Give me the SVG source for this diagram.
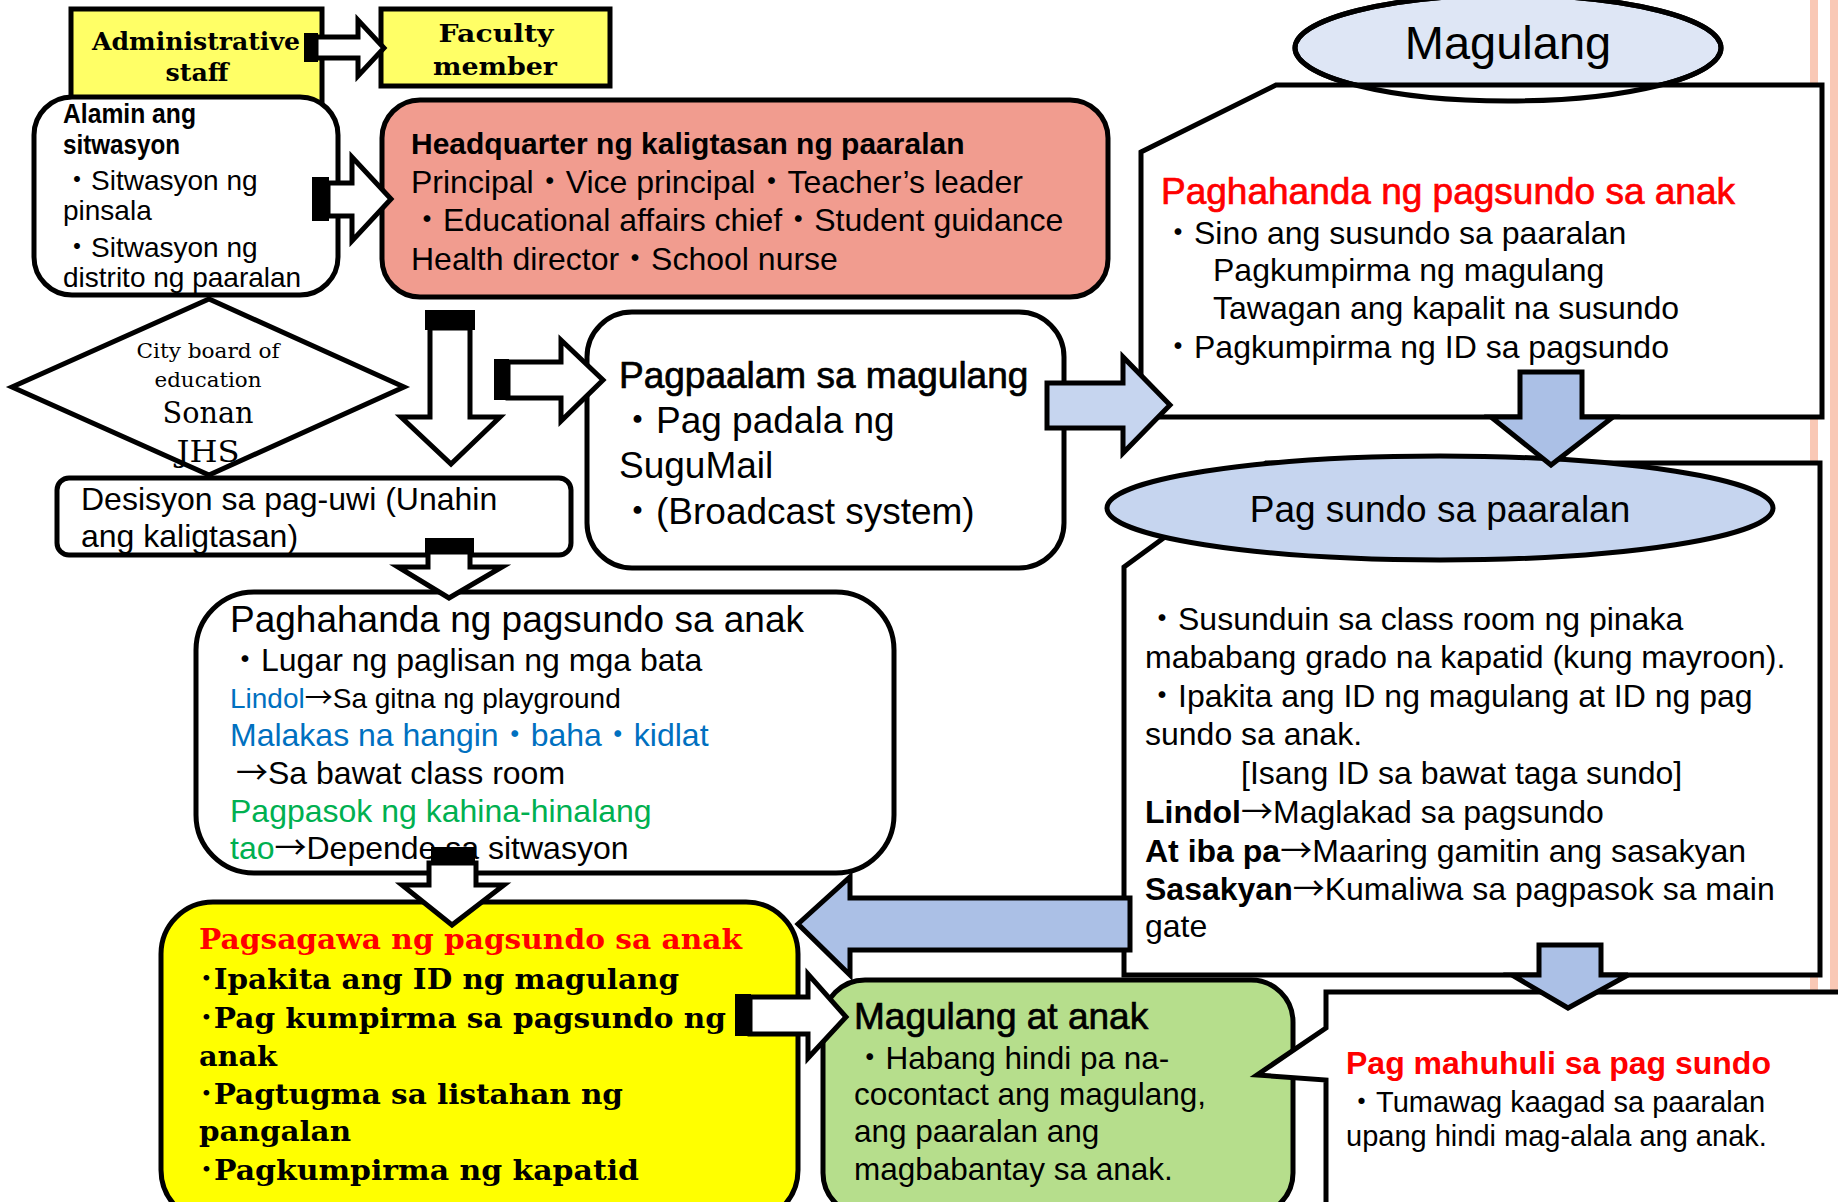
<svg xmlns="http://www.w3.org/2000/svg" width="1838" height="1202" viewBox="0 0 1838 1202">
<style>
.s{font-family:"Liberation Sans",Arial,"Noto Sans CJK JP",sans-serif;fill:#000}
.sf{font-family:"DejaVu Serif","Liberation Serif","Noto Sans CJK JP",serif;fill:#000}
.ar{font-family:"Noto Sans CJK JP",sans-serif;font-weight:normal}
.b{font-weight:bold}
.hv{stroke:#000;stroke-width:0.7}
.box{stroke:#000;stroke-width:5;stroke-linejoin:miter}
.wa{fill:#fff;stroke:#000;stroke-width:5;stroke-linejoin:miter}
.ba1{fill:#C6D5EF;stroke:#000;stroke-width:5;stroke-linejoin:miter}
.ba2{fill:#ABC0E6;stroke:#000;stroke-width:5;stroke-linejoin:miter}
.red{fill:#FF0000}.blue{fill:#0070C0}.green{fill:#00B050}
.t28{font-size:28px}.t32{font-size:32px}.t37{font-size:37px}
</style>
<rect x="0" y="0" width="1838" height="1202" fill="#fff"/>
<rect x="1810" y="0" width="8" height="990" fill="#F9C8B5"/>
<rect x="1830" y="0" width="8" height="990" fill="#F9C8B5"/>

<g id="admin-staff">
<rect class="box" x="71" y="9" width="251" height="105" fill="#FFFF66"/>
<text class="sf b" x="196" y="50" font-size="25" text-anchor="middle" textLength="208" lengthAdjust="spacingAndGlyphs">Administrative</text>
<text class="sf b" x="197" y="81" font-size="25" text-anchor="middle" textLength="63" lengthAdjust="spacingAndGlyphs">staff</text>
</g>
<g id="faculty-member">
<rect class="box" x="381" y="9" width="229" height="77" fill="#FFFF66"/>
<text class="sf b" x="496" y="42" font-size="25" text-anchor="middle" textLength="115" lengthAdjust="spacingAndGlyphs">Faculty</text>
<text class="sf b" x="495" y="75" font-size="25" text-anchor="middle" textLength="124" lengthAdjust="spacingAndGlyphs">member</text>
</g>
<g id="alamin">
<rect class="box" x="34" y="97" width="304" height="198" rx="38" fill="#fff"/>
<text class="s b" x="63" y="123" font-size="27" textLength="133" lengthAdjust="spacingAndGlyphs">Alamin ang</text>
<text class="s b" x="63" y="154" font-size="27" textLength="117" lengthAdjust="spacingAndGlyphs">sitwasyon</text>
<text class="s t28" x="63" y="190">・Sitwasyon ng</text>
<text class="s t28" x="63" y="220">pinsala</text>
<text class="s t28" x="63" y="257">・Sitwasyon ng</text>
<text class="s t28" x="63" y="287">distrito ng paaralan</text>
</g>
<g id="headquarter">
<rect class="box" x="382" y="100" width="726" height="197" rx="38" fill="#F19C8F"/>
<text class="s b" x="411" y="154" font-size="30">Headquarter ng kaligtasan ng paaralan</text>
<text class="s t32" x="411" y="193">Principal・Vice principal・Teacher’s leader</text>
<text class="s t32" x="411" y="231">・Educational affairs chief・Student guidance</text>
<text class="s t32" x="411" y="270">Health director・School nurse</text>
</g>
<g id="city-board">
<polygon class="box" points="12,387 209,299 404,387 209,475" fill="#fff"/>
<text class="sf" x="208" y="358" font-size="21" text-anchor="middle" textLength="143" lengthAdjust="spacingAndGlyphs">City board of</text>
<text class="sf" x="208" y="387" font-size="21" text-anchor="middle" textLength="107" lengthAdjust="spacingAndGlyphs">education</text>
<text class="sf" x="208" y="423" font-size="29" text-anchor="middle" textLength="91" lengthAdjust="spacingAndGlyphs">Sonan</text>
<text class="sf" x="208" y="462" font-size="29" text-anchor="middle" textLength="63" lengthAdjust="spacingAndGlyphs">JHS</text>
</g>
<g id="desisyon">
<rect class="box" x="57" y="478" width="514" height="77" rx="12" fill="#fff"/>
<text class="s t32" x="81" y="510">Desisyon sa pag-uwi (Unahin</text>
<text class="s t32" x="81" y="547">ang kaligtasan)</text>
</g>
<g id="pagpaalam">
<rect class="box" x="587" y="312" width="477" height="256" rx="45" fill="#fff"/>
<text class="s t37 hv" x="619" y="388">Pagpaalam sa magulang</text>
<text class="s t37" x="619" y="433">・Pag padala ng</text>
<text class="s t37" x="619" y="478">SuguMail</text>
<text class="s t37" x="619" y="524">・(Broadcast system)</text>
</g>
<g id="magulang">
<ellipse class="box" cx="1508" cy="48" rx="213" ry="53" fill="#DEE6F5"/>
<text class="s" x="1508" y="59" font-size="47" text-anchor="middle">Magulang</text>
</g>
<g id="paghahanda-magulang">
<polygon class="box" points="1141,152 1276,85 1822,85 1822,417 1141,417" fill="#fff"/>
<ellipse cx="1508" cy="48" rx="213" ry="53" fill="none" stroke="#000" stroke-width="5"/>
<text class="s t37 red" x="1161" y="204" stroke="#FF0000" stroke-width="0.7">Paghahanda ng pagsundo sa anak</text>
<text class="s t32" x="1162" y="244">・Sino ang susundo sa paaralan</text>
<text class="s t32" x="1213" y="281">Pagkumpirma ng magulang</text>
<text class="s t32" x="1213" y="319">Tawagan ang kapalit na susundo</text>
<text class="s t32" x="1162" y="358">・Pagkumpirma ng ID sa pagsundo</text>
</g>
<g id="pag-sundo-box">
<polygon class="box" points="1124,567 1266,463 1820,463 1820,975 1124,975" fill="#fff"/>
<text class="s t32" x="1146" y="630">・Susunduin sa class room ng pinaka</text>
<text class="s t32" x="1145" y="668">mababang grado na kapatid (kung mayroon).</text>
<text class="s t32" x="1146" y="707">・Ipakita ang ID ng magulang at ID ng pag</text>
<text class="s t32" x="1145" y="745">sundo sa anak.</text>
<text class="s t32" x="1241" y="784">[Isang ID sa bawat taga sundo]</text>
<text class="s t32" x="1145" y="823"><tspan class="b">Lindol</tspan><tspan class="ar">→</tspan>Maglakad sa pagsundo</text>
<text class="s t32" x="1145" y="862"><tspan class="b">At iba pa</tspan><tspan class="ar">→</tspan>Maaring gamitin ang sasakyan</text>
<text class="s t32" x="1145" y="900"><tspan class="b">Sasakyan</tspan><tspan class="ar">→</tspan>Kumaliwa sa pagpasok sa main</text>
<text class="s t32" x="1145" y="937">gate</text>
</g>
<g id="pag-sundo-header">
<ellipse class="box" cx="1440" cy="508" rx="333" ry="52" fill="#C6D5EF"/>
<text class="s t37" x="1440" y="522" text-anchor="middle">Pag sundo sa paaralan</text>
</g>
<g id="paghahanda-left">
<rect class="box" x="196" y="592" width="698" height="281" rx="58" fill="#fff"/>
<text class="s t37" x="230" y="632">Paghahanda ng pagsundo sa anak</text>
<text class="s t32" x="229" y="671">・Lugar ng paglisan ng mga bata</text>
<text class="s t28" x="230" y="708"><tspan class="blue">Lindol</tspan><tspan class="ar">→</tspan>Sa gitna ng playground</text>
<text class="s t32 blue" x="230" y="746">Malakas na hangin・baha・kidlat</text>
<text class="s t32" x="236" y="784"><tspan class="ar">→</tspan>Sa bawat class room</text>
<text class="s t32 green" x="230" y="822">Pagpasok ng kahina-hinalang</text>
<text class="s t32" x="230" y="859"><tspan class="green">tao</tspan><tspan class="ar">→</tspan>Depende sa sitwasyon</text>
</g>
<g id="pagsagawa">
<rect class="box" x="161" y="902" width="637" height="320" rx="52" fill="#FFFF00"/>
<text class="sf b red" x="199" y="949" font-size="28" textLength="543" lengthAdjust="spacingAndGlyphs">Pagsagawa ng pagsundo sa anak</text>
<text class="sf b" x="199" y="989" font-size="28" textLength="480" lengthAdjust="spacingAndGlyphs">･Ipakita ang ID ng magulang</text>
<text class="sf b" x="199" y="1028" font-size="28" textLength="527" lengthAdjust="spacingAndGlyphs">･Pag kumpirma sa pagsundo ng</text>
<text class="sf b" x="199" y="1066" font-size="28" textLength="78" lengthAdjust="spacingAndGlyphs">anak</text>
<text class="sf b" x="199" y="1104" font-size="28" textLength="424" lengthAdjust="spacingAndGlyphs">･Pagtugma sa listahan ng</text>
<text class="sf b" x="199" y="1141" font-size="28" textLength="152" lengthAdjust="spacingAndGlyphs">pangalan</text>
<text class="sf b" x="199" y="1180" font-size="28" textLength="440" lengthAdjust="spacingAndGlyphs">･Pagkumpirma ng kapatid</text>
</g>
<g id="magulang-at-anak">
<rect class="box" x="823" y="980" width="470" height="235" rx="42" fill="#B6DE8C"/>
<text class="s t37 hv" x="854" y="1029">Magulang at anak</text>
<text class="s" x="854" y="1069" font-size="31.5">・Habang hindi pa na-</text>
<text class="s" x="854" y="1105" font-size="31.5">cocontact ang magulang,</text>
<text class="s" x="854" y="1142" font-size="31.5">ang paaralan ang</text>
<text class="s" x="854" y="1180" font-size="31.5">magbabantay sa anak.</text>
</g>
<g id="pag-mahuhuli">
<polygon class="box" points="1326,992 1845,992 1845,1210 1326,1210 1326,1080 1257,1075 1326,1028" fill="#fff"/>
<text class="s b red" x="1346" y="1074" font-size="32">Pag mahuhuli sa pag sundo</text>
<text class="s" x="1347" y="1112" font-size="29">・Tumawag kaagad sa paaralan</text>
<text class="s" x="1346" y="1146" font-size="29">upang hindi mag-alala ang anak.</text>
</g>

<g id="connectors">
<rect x="304" y="33" width="14" height="29" fill="#000"/>
<polygon class="wa" points="316,37 358,37 358,20 384,48 358,76 358,58 316,58"/>
<rect x="312" y="177" width="17" height="44" fill="#000"/>
<polygon class="wa" points="328,183 352,183 352,157 391,199 352,241 352,216 328,216"/>
<rect x="425" y="310" width="50" height="20" fill="#000"/>
<polygon class="wa" points="430,328 470,328 470,417 500,417 451,464 401,417 430,417"/>
<rect x="494" y="359" width="15" height="41" fill="#000"/>
<polygon class="wa" points="508,362 561,362 561,340 603,380 561,421 561,398 508,398"/>
<rect x="425" y="538" width="49" height="15" fill="#000"/>
<polygon class="wa" points="428,552 470,552 470,567 502,567 449,598 398,567 428,567"/>
<rect x="431" y="847" width="44" height="17" fill="#000"/>
<polygon class="wa" points="429,863 476,863 476,885 504,885 452,925 402,885 429,885"/>
<rect x="735" y="994" width="16" height="42" fill="#000"/>
<polygon class="wa" points="750,997 808,997 808,974 846,1017 808,1058 808,1034 750,1034"/>
<polygon class="ba1" points="1047,383 1123,383 1123,357 1170,405 1123,453 1123,428 1047,428"/>
<polygon class="ba2" points="1520,372 1582,372 1582,417 1613,417 1551,465 1491,417 1520,417"/>
<polygon class="ba2" points="1130,898 850,898 850,877 798,924 850,975 850,950 1130,950"/>
<polygon class="ba2" points="1539,945 1601,945 1601,975 1628,975 1568,1008 1512,975 1539,975"/>
</g>
</svg>
